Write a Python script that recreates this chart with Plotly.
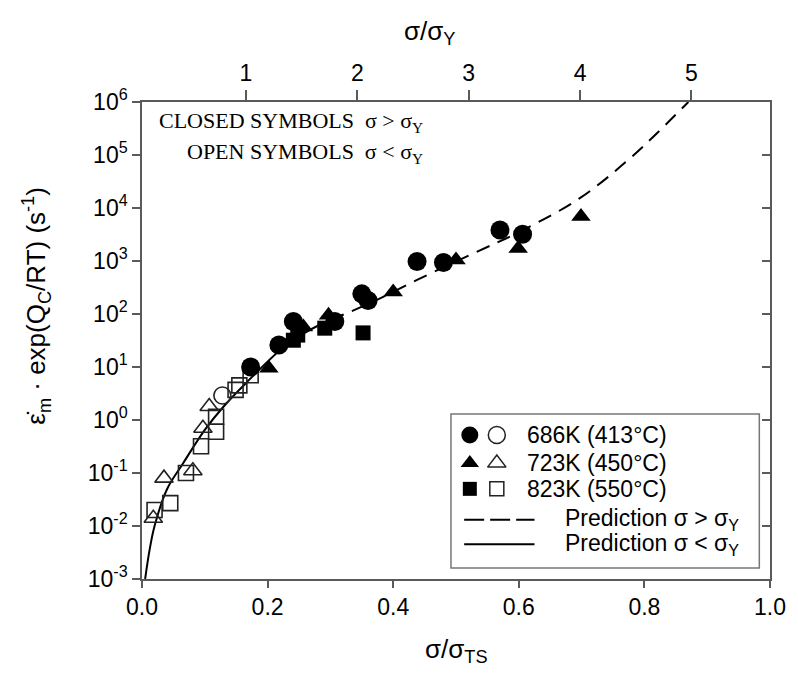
import plotly.graph_objects as go

# ---------------- data ----------------
# 686 K (413 °C)
c686_closed_x = [0.173, 0.218, 0.241, 0.307, 0.350, 0.360, 0.438, 0.480, 0.570, 0.606]
c686_closed_y = [10, 26, 72, 72, 240, 180, 980, 940, 3850, 3200]
c686_open_x = [0.128]
c686_open_y = [2.9]
# 723 K (450 °C)
t723_closed_x = [0.202, 0.257, 0.297, 0.400, 0.500, 0.599, 0.699]
t723_closed_y = [9.5, 57, 95, 260, 1050, 1730, 6900]
t723_open_x = [0.018, 0.035, 0.081, 0.097, 0.107]
t723_open_y = [0.014, 0.08, 0.11, 0.7, 1.8]
# 823 K (550 °C)
s823_closed_x = [0.241, 0.248, 0.291, 0.352]
s823_closed_y = [32, 40, 54, 44]
s823_open_x = [0.020, 0.045, 0.070, 0.094, 0.118, 0.118, 0.149, 0.155, 0.173]
s823_open_y = [0.020, 0.027, 0.10, 0.32, 0.6, 1.15, 3.7, 4.5, 7.0]

# prediction curves
pred_low_x = [0.005, 0.012, 0.02, 0.04, 0.065, 0.10, 0.13, 0.165, 0.233, 0.28, 0.32]
pred_low_y = [1e-3, 3.5e-3, 1e-2, 5e-2, 0.15, 0.65, 1.8, 4.9, 28, 60, 95]
pred_high_x = [0.30, 0.323, 0.38, 0.438, 0.528, 0.60, 0.696, 0.78, 0.87]
pred_high_y = [80, 100, 200, 440, 1400, 3500, 15000, 93000, 1e6]

x_ticks = [0.0, 0.2, 0.4, 0.6, 0.8, 1.0]
y_exps = [-3, -2, -1, 0, 1, 2, 3, 4, 5, 6]
top_ticks = [1, 2, 3, 4, 5]
top_range = [0.066, 5.706]

legend_labels = ["686K (413°C)", "723K (450°C)", "823K (550°C)"]
legend_symbols = ["circle", "triangle-up", "square"]
line_labels = ["Prediction σ > σ<sub>Y</sub>", "Prediction σ < σ<sub>Y</sub>"]

# ---------------- styling ----------------
SANS = "Liberation Sans, Arial, sans-serif"
SERIF = "Liberation Serif, Times New Roman, serif"
BLK = "black"
AX = "#5a5a5a"

fig = go.Figure()

def pts(x, y, sym, filled, size):
    return go.Scatter(
        x=x, y=y, mode="markers", showlegend=False,
        marker=dict(symbol=sym if filled else sym + "-open", size=size,
                    color=BLK if filled else "#222",
                    line=dict(color="#222", width=1.6 if not filled else 0)),
        xaxis="x", yaxis="y", cliponaxis=False)

# curves
fig.add_trace(go.Scatter(x=pred_low_x, y=pred_low_y, mode="lines", line_shape="spline",
                         line=dict(color=BLK, width=2), showlegend=False))
fig.add_trace(go.Scatter(x=pred_high_x, y=pred_high_y, mode="lines", line_shape="spline",
                         line=dict(color=BLK, width=2, dash="14px,9px"), showlegend=False))

# open symbols
fig.add_trace(pts(s823_open_x, s823_open_y, "square", False, 15))
fig.add_trace(pts(t723_open_x, t723_open_y, "triangle-up", False, 16))
fig.add_trace(pts(c686_open_x, c686_open_y, "circle", False, 17))
# closed symbols
fig.add_trace(pts(s823_closed_x, s823_closed_y, "square", True, 15))
fig.add_trace(pts(t723_closed_x, t723_closed_y, "triangle-up", True, 17))
fig.add_trace(pts(c686_closed_x, c686_closed_y, "circle", True, 19))

# ---------- custom legend (on an auxiliary paper-like axis) ----------
leg_rows_y = [0.302, 0.243, 0.189]
leg_filled_x = 0.522
leg_open_x = 0.565
leg_text_x = 0.610
for sym, ry, lab in zip(legend_symbols, leg_rows_y, legend_labels):
    sz = {"circle": 17, "triangle-up": 16, "square": 14}[sym]
    fig.add_trace(go.Scatter(x=[leg_filled_x], y=[ry], xaxis="x3", yaxis="y3", mode="markers",
                             showlegend=False,
                             marker=dict(symbol=sym, size=sz, color=BLK)))
    fig.add_trace(go.Scatter(x=[leg_open_x], y=[ry], xaxis="x3", yaxis="y3", mode="markers",
                             showlegend=False,
                             marker=dict(symbol=sym + "-open", size=sz, color="#222",
                                         line=dict(width=1.5))))
    fig.add_annotation(x=leg_text_x, y=ry, xref="paper", yref="paper", text=lab,
                       showarrow=False, xanchor="left", yanchor="middle",
                       font=dict(family=SANS, size=23, color=BLK))

line_rows_y = [0.124, 0.073]
dashes = ["20px,6px", "solid"]
for ry, lab, d in zip(line_rows_y, line_labels, dashes):
    fig.add_trace(go.Scatter(x=[0.513, 0.625], y=[ry, ry], xaxis="x3", yaxis="y3", mode="lines",
                             showlegend=False, line=dict(color=BLK, width=2, dash=d)))
    fig.add_annotation(x=0.670, y=ry, xref="paper", yref="paper", text=lab,
                       showarrow=False, xanchor="left", yanchor="middle",
                       font=dict(family=SANS, size=23, color=BLK))

fig.add_shape(type="rect", xref="paper", yref="paper", x0=0.492, x1=0.983, y0=0.023, y1=0.346,
              line=dict(color="#777", width=1.5), fillcolor="rgba(0,0,0,0)", layer="below")

# ---------- corner note ----------
fig.add_annotation(x=0.451, y=0.958, xref="paper", yref="paper",
                   text="CLOSED SYMBOLS  σ > σ<sub>Y</sub>", showarrow=False,
                   xanchor="right", yanchor="middle", font=dict(family=SERIF, size=22, color=BLK))
fig.add_annotation(x=0.451, y=0.893, xref="paper", yref="paper",
                   text="OPEN SYMBOLS  σ < σ<sub>Y</sub>", showarrow=False,
                   xanchor="right", yanchor="middle", font=dict(family=SERIF, size=22, color=BLK))

# ---------- axis titles ----------
fig.add_annotation(x=-0.168, y=0.574, xref="paper", yref="paper", textangle=-90,
                   text="ε\u0307<sub>m</sub> · exp(Q<sub>C</sub>/RT) (s<sup>-1</sup>)",
                   showarrow=False, xanchor="center", yanchor="middle",
                   font=dict(family=SANS, size=26, color=BLK))
fig.add_annotation(x=0.5, y=-0.149, xref="paper", yref="paper",
                   text="σ/σ<sub>TS</sub>", showarrow=False, xanchor="center", yanchor="middle",
                   font=dict(family=SANS, size=26, color=BLK))
fig.add_annotation(x=0.458, y=1.145, xref="paper", yref="paper",
                   text="σ/σ<sub>Y</sub>", showarrow=False, xanchor="center", yanchor="middle",
                   font=dict(family=SANS, size=26, color=BLK))

tickfont = dict(family=SANS, size=23, color=BLK)
fig.update_layout(
    width=798, height=686,
    margin=dict(l=142, r=22, t=102, b=107),
    paper_bgcolor="white", plot_bgcolor="white",
    xaxis=dict(range=[0, 1], tickvals=x_ticks, ticktext=[f"{v:.1f}" for v in x_ticks],
               ticks="outside", ticklen=7, tickwidth=1.5, tickcolor=AX,
               showline=True, linecolor=AX, linewidth=1.5, showgrid=False, zeroline=False,
               tickfont=tickfont, anchor="y"),
    yaxis=dict(type="log", range=[-3, 6], tickvals=[10.0 ** e for e in y_exps],
               ticktext=[f"10<sup>{e}</sup>" for e in y_exps],
               ticks="outside", ticklen=8, tickwidth=1.5, tickcolor=AX,
               showline=True, linecolor=AX, linewidth=1.5, showgrid=False, zeroline=False,
               tickfont=tickfont, anchor="x"),
    xaxis2=dict(overlaying="x", side="top", range=top_range, tickvals=top_ticks,
                ticktext=[str(v) for v in top_ticks],
                ticks="outside", ticklen=10, tickwidth=1.5, tickcolor=AX,
                showline=True, linecolor=AX, linewidth=1.5, showgrid=False, zeroline=False,
                tickfont=tickfont, anchor="y"),
    yaxis2=dict(overlaying="y", side="right", type="log", range=[-3, 6],
                tickvals=[10.0 ** e for e in y_exps], showticklabels=False,
                ticks="inside", ticklen=8, tickwidth=1.5, tickcolor=AX,
                showline=True, linecolor=AX, linewidth=1.5, showgrid=False, zeroline=False,
                anchor="x"),
    xaxis3=dict(overlaying="x", range=[0, 1], visible=False, anchor="y3"),
    yaxis3=dict(overlaying="y", range=[0, 1], visible=False, anchor="x3"),
)
# dummy traces so the top / right axes are drawn
fig.add_trace(go.Scatter(x=[None], y=[None], xaxis="x2", yaxis="y", showlegend=False))
fig.add_trace(go.Scatter(x=[None], y=[None], xaxis="x", yaxis="y2", showlegend=False))

fig.write_html("out.html")
